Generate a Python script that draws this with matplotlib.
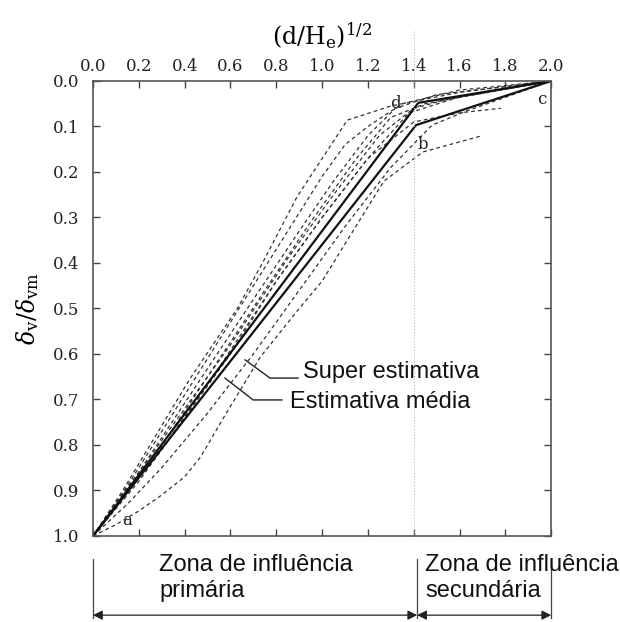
import numpy as np
import matplotlib.pyplot as plt

plt.rcParams['mathtext.fontset'] = 'dejavuserif'

# linhas solidas (estimativa media / super estimativa)
media_x = [0.0, 1.42, 2.0]
media_y = [1.0, 0.048, 0.0]
super_x = [0.0, 1.41, 2.0]
super_y = [1.0, 0.097, 0.0]

# curvas medidas (tracejadas)
curvas = [
    ([0.0, 0.13, 0.42, 0.63, 0.74, 0.89, 1.11, 1.3, 1.6, 2.0],
     [1.0, 0.90, 0.657, 0.50, 0.40, 0.255, 0.086, 0.055, 0.025, 0.0]),
    ([0.0, 0.15, 0.40, 0.65, 0.85, 1.0, 1.1, 1.2, 1.35, 1.6, 2.0],
     [1.0, 0.89, 0.69, 0.49, 0.33, 0.21, 0.14, 0.10, 0.05, 0.02, 0.0]),
    ([0.0, 0.2, 0.45, 0.7, 0.9, 1.05, 1.2, 1.32, 1.5, 2.0],
     [1.0, 0.86, 0.67, 0.48, 0.33, 0.22, 0.12, 0.06, 0.03, 0.0]),
    ([0.0, 0.25, 0.5, 0.75, 0.95, 1.15, 1.3, 1.45, 2.0],
     [1.0, 0.84, 0.65, 0.46, 0.31, 0.17, 0.08, 0.05, 0.0]),
    ([0.0, 0.3, 0.55, 0.8, 1.0, 1.2, 1.38, 1.6, 2.0],
     [1.0, 0.81, 0.63, 0.44, 0.30, 0.17, 0.07, 0.035, 0.0]),
    ([0.0, 0.2, 0.4, 0.6, 0.8, 1.0, 1.2, 1.4, 1.6, 1.78],
     [1.0, 0.88, 0.74, 0.60, 0.44, 0.30, 0.17, 0.09, 0.07, 0.06]),
    ([0.0, 0.15, 0.3, 0.5, 0.7, 0.9, 1.1, 1.3, 1.48, 1.62, 2.0],
     [1.0, 0.93, 0.85, 0.73, 0.60, 0.46, 0.32, 0.19, 0.097, 0.068, 0.0]),
    ([0.0, 0.1, 0.2, 0.3, 0.4, 0.47, 0.57, 0.73, 0.9, 1.0, 1.11, 1.27, 1.44, 1.7],
     [1.0, 0.975, 0.945, 0.91, 0.87, 0.826, 0.74, 0.607, 0.50, 0.44, 0.35, 0.22, 0.156, 0.12]),
    ([0.0, 0.3, 0.6, 0.85, 1.05, 1.25, 1.4, 1.55, 2.0],
     [1.0, 0.79, 0.58, 0.39, 0.25, 0.12, 0.06, 0.04, 0.0]),
]

xticks = np.arange(0, 2.01, 0.2)
yticks = np.arange(0, 1.01, 0.1)

fig = plt.figure(figsize=(6.2, 6.22), dpi=100)
ax = fig.add_axes([0.150, 0.1383, 0.739, 0.7315])

for cx, cy in curvas:
    ax.plot(cx, cy, color='#333333', lw=0.9, ls=(0, (3, 2.5)))

ax.plot(media_x, media_y, color='#111111', lw=1.6)
ax.plot(super_x, super_y, color='#111111', lw=1.6)

ax.set_xlim(0, 2.0)
ax.set_ylim(1.0, 0.0)
ax.xaxis.tick_top()
ax.xaxis.set_label_position('top')
ax.set_xticks(xticks)
ax.set_xticklabels([f'{v:.1f}' for v in xticks])
ax.set_yticks(yticks)
ax.set_yticklabels([f'{v:.1f}' for v in yticks])
ax.tick_params(axis='both', direction='in', length=5, width=1, color='#444444',
               labelsize=12, labelcolor='#222222')
ax.tick_params(axis='x', top=True, bottom=True, pad=4)
ax.tick_params(axis='y', left=True, right=True, pad=10)
for lab in ax.get_xticklabels() + ax.get_yticklabels():
    lab.set_family('DejaVu Serif')
for s in ax.spines.values():
    s.set_color('#555555')
    s.set_linewidth(1.2)

ax.set_xlabel(r'$(\mathrm{d/H_e})^{1/2}$', fontsize=17, labelpad=10)
ax.set_ylabel(r'$\delta_\mathrm{v}/\delta_\mathrm{vm}$', fontsize=17, labelpad=8)

# linha vertical de separacao das zonas
ax.plot([1.40, 1.40], [-0.11, 1.0], color='#bbbbbb', lw=0.8, ls=':', clip_on=False)

# letras
serif = dict(family='DejaVu Serif', fontsize=12, color='#222222')
ax.text(0.15, 0.965, 'a', ha='center', va='center', **serif)
ax.text(1.44, 0.14, 'b', ha='center', va='center', **serif)
ax.text(1.96, 0.04, 'c', ha='center', va='center', **serif)
ax.text(1.32, 0.05, 'd', ha='center', va='center', **serif)

# chamadas
sans = dict(family='Liberation Sans', fontsize=17, color='#111111')
ax.plot([0.664, 0.773, 0.895], [0.613, 0.653, 0.653], color='#222222', lw=1.0)
ax.plot([0.576, 0.699, 0.825], [0.653, 0.701, 0.701], color='#222222', lw=1.0)
ax.text(0.917, 0.64, 'Super estimativa', ha='left', va='center', **sans)
ax.text(0.86, 0.705, 'Estimativa média', ha='left', va='center', **sans)

# zonas de influencia
for xv in [0.0, 1.415, 2.0]:
    ax.plot([xv, xv], [1.05, 1.18], color='#444444', lw=0.9, clip_on=False)
for x0, x1 in [(0.0, 1.415), (1.415, 2.0)]:
    ax.annotate('', xy=(x0, 1.174), xytext=(x1, 1.174), annotation_clip=False,
                arrowprops=dict(arrowstyle='<|-|>', color='#222222', lw=0.9,
                                mutation_scale=14, shrinkA=0, shrinkB=0))
ax.text(0.29, 1.092, 'Zona de influência\nprimária', ha='left', va='center',
        linespacing=1.2, clip_on=False, **sans)
ax.text(1.45, 1.092, 'Zona de influência\nsecundária', ha='left', va='center',
        linespacing=1.2, clip_on=False, **sans)

fig.savefig('out.png', dpi=100)
